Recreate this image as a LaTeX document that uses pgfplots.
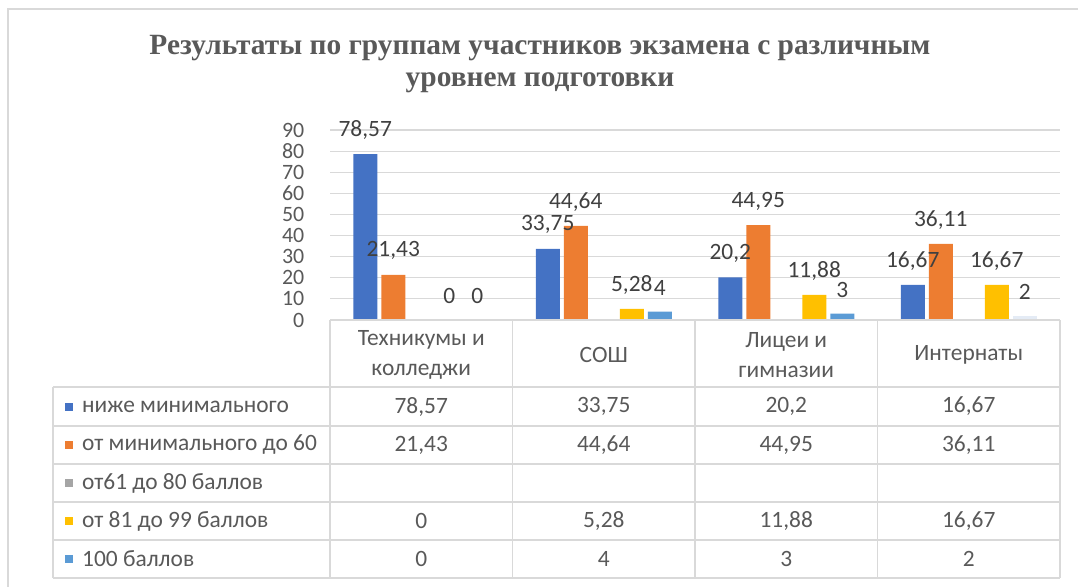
\documentclass[border=0pt]{standalone}
\usepackage{fontspec}
\setmainfont{Carlito}
\newfontfamily\titlefont{Liberation Serif}
\usepackage{pgfplots}
\pgfplotsset{compat=1.18}
\definecolor{cA}{HTML}{4472C4}
\definecolor{cB}{HTML}{ED7D31}
\definecolor{cC}{HTML}{A5A5A5}
\definecolor{cD}{HTML}{FFC000}
\definecolor{cE}{HTML}{5B9BD5}
\definecolor{cEpale}{HTML}{E4EBF5}
\definecolor{gridc}{HTML}{D9D9D9}
\definecolor{labc}{HTML}{595959}
\definecolor{numc}{HTML}{404040}
\newcommand{\lf}{\fontsize{23.5}{30}\selectfont}
\newcommand{\tf}{\fontsize{22}{22}\selectfont}
\begin{document}
\begin{tikzpicture}
\useasboundingbox (0,0) rectangle (1078bp,-587bp);
\begin{axis}[
  at={(330bp,-320bp)}, anchor=south west,
  scale only axis, width=730bp, height=190bp,
  xmin=-0.5, xmax=3.5, ymin=0, ymax=90,
  ytick={0,10,...,90}, xtick=\empty,
  ymajorgrids, grid style={color=gridc, line width=1.2bp},
  axis line style={draw=none}, major tick length=0pt,
  yticklabel style={font=\tf, text=labc, inner sep=0.5bp, xshift=-25bp},
  /pgf/number format/assume math mode=true,
  /pgf/number format/use comma,
  /pgf/number format/1000 sep={},
  clip=false,
  nodes near coords,
  every node near coord/.append style={font=\lf, text=numc, anchor=center, inner sep=1bp, yshift=24bp},
]
\addplot[ybar, bar width=24bp, bar shift=-56bp, fill=cA, draw=none,
  every node near coord/.append style={xshift=-56bp}] coordinates {(0,78.57) (1,33.75) (2,20.2) (3,16.67)};
\addplot[ybar, bar width=24bp, bar shift=-28bp, fill=cB, draw=none,
  every node near coord/.append style={xshift=-28bp}] coordinates {(0,21.43) (1,44.64) (2,44.95) (3,36.11)};
\addplot[ybar, bar width=24bp, bar shift=28bp, fill=cD, draw=none,
  every node near coord/.append style={xshift=28bp}] coordinates {(0,0) (1,5.28) (2,11.88) (3,16.67)};
\addplot[ybar, bar width=24bp, bar shift=56bp, fill=cE, draw=none,
  every node near coord/.append style={xshift=56bp}] coordinates {(0,0) (1,4) (2,3)};
\addplot[ybar, bar width=24bp, bar shift=56bp, fill=cEpale, draw=none,
  every node near coord/.append style={xshift=56bp}] coordinates {(3,2)};
\end{axis}
\begin{scope}[x=1bp,y=-1bp]
  % outer frame
  \draw[gridc, line width=1.2bp] (8,587) -- (8,9) -- (1078,9);
  % title
  \node[text=labc, font=\titlefont\bfseries\fontsize{29.5}{33}\selectfont, align=center] at (540,64)
    {Результаты по группам участников экзамена с различным\\уровнем подготовки};
  % table lines
  \begin{scope}[gridc, line width=1.5bp]
    \draw (330,320) -- (1060,320);
    \foreach \yy in {387,426,464,502,540,578} \draw (53,\yy) -- (1060,\yy);
    \draw (53,387) -- (53,578);
    \foreach \xx in {330,512.5,695,877.5,1060} \draw (\xx,320) -- (\xx,578);
  \end{scope}
  % header
  \begin{scope}[every node/.style={font=\lf, text=labc, align=center}]
    \node at (421.25,355) {Техникумы и\\колледжи};
    \node at (603.75,355) {СОШ};
    \node at (786.25,355) {Лицеи и\\гимназии};
    \node at (968.75,355) {Интернаты};
  \end{scope}
  % legend rows
  \begin{scope}[every node/.style={font=\lf, text=labc, inner sep=0pt}]
    \fill[cA] (65,402.5) rectangle (73,410.5);
    \node[anchor=west] at (82,406.5) {ниже минимального};
    \fill[cB] (65,441) rectangle (73,449);
    \node[anchor=west] at (82,445) {от минимального до 60};
    \fill[cC] (65,479) rectangle (73,487);
    \node[anchor=west] at (82,483) {от61 до 80 баллов};
    \fill[cD] (65,517) rectangle (73,525);
    \node[anchor=west] at (82,521) {от 81 до 99 баллов};
    \fill[cE] (65,555) rectangle (73,563);
    \node[anchor=west] at (82,559) {100 баллов};
  \end{scope}
  % table values
  \begin{scope}[every node/.style={font=\lf, text=labc}]
    \node at (421.25,406.5) {78,57}; \node at (603.75,406.5) {33,75}; \node at (786.25,406.5) {20,2}; \node at (968.75,406.5) {16,67};
    \node at (421.25,445) {21,43}; \node at (603.75,445) {44,64}; \node at (786.25,445) {44,95}; \node at (968.75,445) {36,11};
    \node at (421.25,521) {0}; \node at (603.75,521) {5,28}; \node at (786.25,521) {11,88}; \node at (968.75,521) {16,67};
    \node at (421.25,559) {0}; \node at (603.75,559) {4}; \node at (786.25,559) {3}; \node at (968.75,559) {2};
  \end{scope}
\end{scope}
\end{tikzpicture}
\end{document}
